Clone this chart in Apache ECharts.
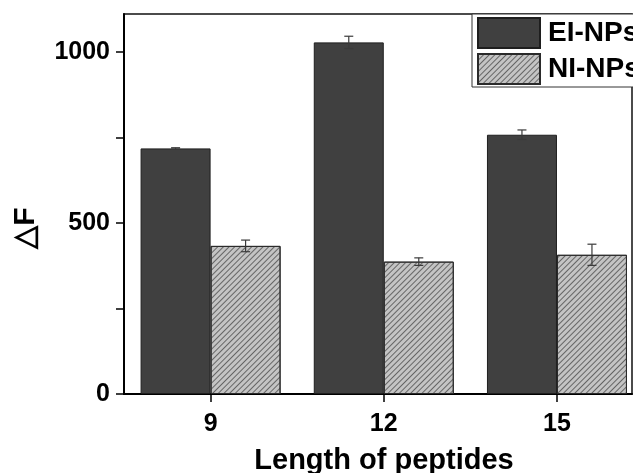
<!DOCTYPE html>
<html>
<head>
<meta charset="utf-8">
<script src="https://cdn.jsdelivr.net/npm/echarts@6/dist/echarts.min.js"></script>
<style>html,body{margin:0;padding:0;background:#fff}#c{width:633px;height:473px}</style>
</head>
<body>
<div id="c"></div>
<script>
// Data
var categories = [9, 12, 15];
var eiValues = [718, 1028, 758];
var eiErrors = [2, 18, 14];
var niValues = [433, 387, 407];
var niErrors = [17, 11, 31];
var yTickValues = [0, 250, 500, 750, 1000];
var yLabelValues = [0, 500, 1000];
var seriesNames = ['EI-NPs', 'NI-NPs'];

var BAR_W = 70;
var FONT = '"Liberation Sans", Arial, sans-serif';

function pairs(vals) { return categories.map(function (c, i) { return [c, vals[i]]; }); }
function errData(vals, errs) { return categories.map(function (c, i) { return [c, vals[i], errs[i]]; }); }

function errorRenderer(offset) {
  return function (params, api) {
    var x = api.value(0), y = api.value(1), e = api.value(2);
    var hi = api.coord([x, y + e]);
    var lo = api.coord([x, y - e]);
    var cx = hi[0] + offset;
    var cap = 4.5;
    var st = { stroke: '#3a3a3a', lineWidth: 1.2 };
    return {
      type: 'group',
      children: [
        { type: 'line', shape: { x1: cx, y1: hi[1], x2: cx, y2: lo[1] }, style: st },
        { type: 'line', shape: { x1: cx - cap, y1: hi[1], x2: cx + cap, y2: hi[1] }, style: st },
        { type: 'line', shape: { x1: cx - cap, y1: lo[1], x2: cx + cap, y2: lo[1] }, style: st }
      ]
    };
  };
}

var chart = echarts.init(document.getElementById('c'), null, { renderer: 'canvas' });
chart.setOption({
  animation: false,
  backgroundColor: '#ffffff',
  grid: { left: 124, top: 14, right: 1, bottom: 79, containLabel: false, outerBoundsMode: 'none',
    show: true, borderColor: '#111', borderWidth: 1.5, backgroundColor: 'transparent' },
  legend: {
    data: seriesNames,
    orient: 'vertical',
    left: 472, top: 14,
    padding: [3, 5, 2, 5],
    itemGap: 4,
    itemWidth: 62, itemHeight: 30,
    borderColor: '#333', borderWidth: 1,
    backgroundColor: '#fff',
    icon: 'rect',
    textStyle: { fontFamily: FONT, fontSize: 28, fontWeight: 'bold', color: '#000', padding: [0, 0, 0, 3] }
  },
  xAxis: {
    type: 'value', min: 7.5, max: 16.3,
    splitLine: { show: false },
    axisLine: { show: true, onZero: false, lineStyle: { color: '#000', width: 2 } },
    axisTick: { show: true, inside: false, length: 8, customValues: categories, lineStyle: { color: '#000', width: 1.5 } },
    axisLabel: { customValues: categories, margin: 18, fontFamily: FONT, fontSize: 25, fontWeight: 'bold', color: '#000',
      formatter: function (v) { return String(v); } },
    name: 'Length of peptides',
    nameLocation: 'middle',
    nameGap: 52,
    nameTextStyle: { fontFamily: FONT, fontSize: 29, fontWeight: 'bold', color: '#000', padding: [0, 0, 0, 12] }
  },
  yAxis: {
    type: 'value', min: 0, max: 1111,
    splitLine: { show: false },
    axisLine: { show: true, lineStyle: { color: '#000', width: 2 } },
    axisTick: { show: true, inside: false, length: 8, customValues: yTickValues, lineStyle: { color: '#000', width: 1.5 } },
    axisLabel: { customValues: yLabelValues, margin: 14, fontFamily: FONT, fontSize: 25, fontWeight: 'bold', color: '#000',
      formatter: function (v) { return String(v); } }
  },
  graphic: [{
    type: 'text', x: 26, y: 228, rotation: Math.PI / 2,
    style: { text: '△F', fontFamily: FONT, fontSize: 30, fontWeight: 'bold', fill: '#000', align: 'center', verticalAlign: 'middle' }
  }],
  series: [
    {
      name: seriesNames[0], type: 'bar', data: pairs(eiValues),
      barWidth: BAR_W, barGap: '0%',
      itemStyle: { color: '#404040', borderColor: '#1e1e1e', borderWidth: 1 }
    },
    {
      name: seriesNames[1], type: 'bar', data: pairs(niValues),
      barWidth: BAR_W, barGap: '0%',
      itemStyle: {
        color: '#c4c4c4', borderColor: '#2a2a2a', borderWidth: 1,
        decal: { symbol: 'rect', symbolSize: 1, color: 'rgba(70,70,70,0.75)', dashArrayX: [1, 0], dashArrayY: [1, 2.2], rotation: -Math.PI / 4 }
      }
    },
    { type: 'custom', data: errData(eiValues, eiErrors), renderItem: errorRenderer(-BAR_W / 2), z: 5, silent: true },
    { type: 'custom', data: errData(niValues, niErrors), renderItem: errorRenderer(BAR_W / 2), z: 5, silent: true }
  ]
});
</script>
</body>
</html>
